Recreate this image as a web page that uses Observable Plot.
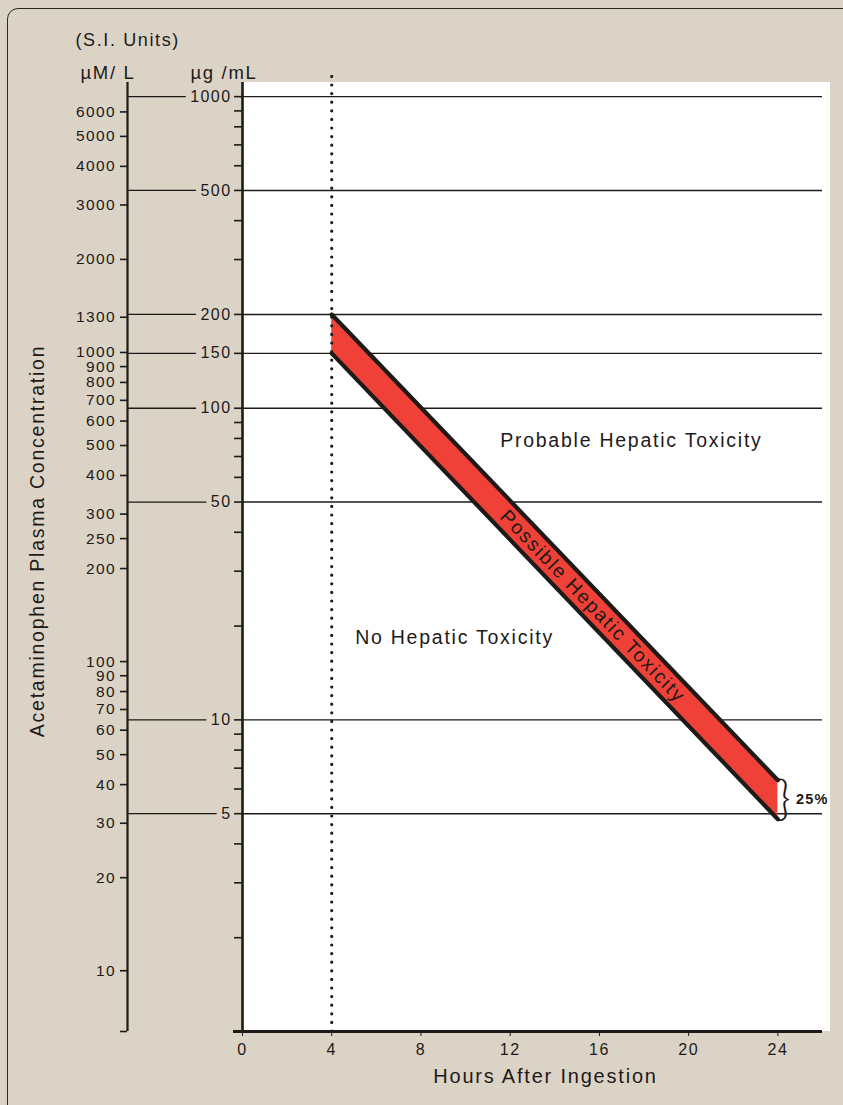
<!DOCTYPE html>
<html>
<head>
<meta charset="utf-8">
<script src="https://cdn.jsdelivr.net/npm/d3@7"></script>
<script src="https://cdn.jsdelivr.net/npm/@observablehq/plot@0.6"></script>
<style>
  html, body { margin: 0; padding: 0; background: #dcd3c7; width: 843px; height: 1105px; overflow: hidden; }
  #wrap { position: relative; width: 843px; height: 1105px; }
  #border { position: absolute; left: 7px; top: 8px; width: 900px; height: 1200px;
            border: 1.5px solid #2b2724; border-radius: 11px; box-sizing: border-box; }
  #chart { position: absolute; left: 0; top: 0; }
  #chart text { letter-spacing: 0.09em; }
  #chart g[aria-label^="x-axis"] { font-size: 16px; }
  #chart g[aria-label^="x-axis"] text { font-size: 16px; }
</style>
</head>
<body>
<div id="wrap"><div id="border"></div><div id="chart"></div></div>
<script>
// ---------------- data ----------------
const hours = [0, 4, 8, 12, 16, 20, 24];
const gridUg = [1000, 500, 200, 150, 100, 50, 10, 5];
const ugTicks = [1000, 900, 800, 700, 600, 500, 400, 300, 200, 150, 100, 90, 80, 70, 60, 50, 40, 30, 20, 10, 9, 8, 7, 6, 5, 4, 3, 2];
const ugLabels = [1000, 500, 200, 150, 100, 50, 10, 5];
const muLabels = [6000, 5000, 4000, 3000, 2000, 1300, 1000, 900, 800, 700, 600, 500, 400, 300, 250, 200, 100, 90, 80, 70, 60, 50, 40, 30, 20, 10];
const bandHours = [4, 24];
const bandUpper = [200, 6.4];   // µg/mL
const bandLower = [150, 4.8];   // µg/mL
const regionLabels = ["Probable Hepatic Toxicity", "No Hepatic Toxicity"];
const regionHours = [11.55, 5.05];
const regionConc = [78.5, 18.4];
const bandLabel = "Possible Hepatic Toxicity";
const bandLabelHour = 15.7;
const spreadLabel = "25%";
// calibration of the printed µM/L scale against the µg/mL scale
const MU_SLOPE = 0.992, MU_OFFSET = -0.797;

// ---------------- layout / style ----------------
const W = 843, H = 1105;
const M = {top: 82, bottom: 74, left: 242, right: 21};
const X_DOMAIN = [0, 26], Y_DOMAIN = [1, 1110], DOT_TOP = 1170;
const INK = "#1d1a18", RED = "#ef4137";
const FONT = "'Liberation Sans', Arial, Helvetica, sans-serif";

const xs = Plot.scale({x: {domain: X_DOMAIN, range: [M.left, W - M.right]}});
const ys = Plot.scale({y: {type: "log", domain: Y_DOMAIN, range: [H - M.bottom, M.top]}});
const px = p => xs.invert(p);              // pixel column -> hours coordinate
const muToUg = d => Math.pow(10, MU_SLOPE * Math.log10(d) + MU_OFFSET);

const band = bandHours.map((h, i) => ({h, hi: bandUpper[i], lo: bandLower[i]}));
const logMid = i => (Math.log10(bandUpper[i]) + Math.log10(bandLower[i])) / 2;
const t = (bandLabelHour - bandHours[0]) / (bandHours[1] - bandHours[0]);
const bandLabelConc = Math.pow(10, logMid(0) + t * (logMid(1) - logMid(0)));
const angle = Math.atan2(ys.apply(Math.pow(10, logMid(1))) - ys.apply(Math.pow(10, logMid(0))),
                         xs.apply(bandHours[1]) - xs.apply(bandHours[0])) * 180 / Math.PI;
const spreadConc = Math.pow(10, logMid(1));
const regions = regionLabels.map((s, i) => ({s, h: regionHours[i], c: regionConc[i]}));
const labelWidth = d => String(d).length * 10.3;

const chart = Plot.plot({
  width: W, height: H,
  marginTop: M.top, marginBottom: M.bottom, marginLeft: M.left, marginRight: M.right,
  style: {background: "transparent", fontFamily: FONT, fontSize: "16px", color: INK, overflow: "visible"},
  x: {domain: X_DOMAIN, ticks: hours, tickSize: 5, tickPadding: 7, label: null},
  y: {type: "log", domain: Y_DOMAIN, axis: null},
  marks: [
    // white plotting field
    Plot.rect([0], {x1: 0, x2: px(830), y1: Y_DOMAIN[0], y2: Y_DOMAIN[1], fill: "white"}),
    // horizontal reference lines
    Plot.ruleY(gridUg, {x1: 0, x2: X_DOMAIN[1], stroke: INK, strokeWidth: 1.4}),
    // possible-toxicity band
    Plot.areaY(band, {x: "h", y1: "lo", y2: "hi", fill: RED}),
    Plot.line(band, {x: "h", y: "hi", stroke: INK, strokeWidth: 4.2}),
    Plot.line(band, {x: "h", y: "lo", stroke: INK, strokeWidth: 4.2}),
    // 4-hour dotted line
    Plot.ruleX([4], {y1: Y_DOMAIN[0], y2: DOT_TOP, stroke: INK, strokeWidth: 3.2,
                     strokeDasharray: "0 8.6", strokeLinecap: "round"}),
    // µg/mL axis
    Plot.ruleX([0], {y1: Y_DOMAIN[0], y2: Y_DOMAIN[1], stroke: INK, strokeWidth: 2.6}),
    Plot.ruleY(ugTicks, {x1: px(234), x2: 0, stroke: INK, strokeWidth: 1.6}),
    Plot.text(ugLabels, {x: 0, y: d => d, text: d => String(d), dx: -11, textAnchor: "end", fontSize: 16, fill: INK}),
    // µM/L axis
    Plot.ruleX([px(127)], {y1: Y_DOMAIN[0], y2: Y_DOMAIN[1], stroke: INK, strokeWidth: 2.2}),
    Plot.ruleY(muLabels.map(muToUg).concat([Y_DOMAIN[0]]), {x1: px(120), x2: px(127), stroke: INK, strokeWidth: 1.6}),
    Plot.text(muLabels, {x: px(115.5), y: muToUg, text: d => String(d), textAnchor: "end", fontSize: 15.5, fill: INK}),
    // connectors between the two scales
    Plot.ruleY(ugLabels, {x1: px(128), x2: d => px(230 - labelWidth(d) - 3), stroke: INK, strokeWidth: 1.3}),
    // x axis line
    Plot.ruleY([Y_DOMAIN[0]], {x1: px(233), x2: X_DOMAIN[1], stroke: INK, strokeWidth: 3}),
    // titles
    Plot.text(["Hours After Ingestion"], {x: px(545), frameAnchor: "bottom", dy: 51, fontSize: 20, fill: INK}),
    Plot.text(["Acetaminophen Plasma Concentration"], {x: px(37), frameAnchor: "left", dy: -16, rotate: -90,
                textAnchor: "middle", fontSize: 19.5, fill: INK}),
    Plot.text(["(S.I. Units)"], {x: px(75), frameAnchor: "top", dy: -49, textAnchor: "start", fontSize: 18, fill: INK}),
    Plot.text(["µM/ L"], {x: px(80), frameAnchor: "top", dy: -17, textAnchor: "start", fontSize: 18.5, fill: INK}),
    Plot.text(["µg /mL"], {x: px(190), frameAnchor: "top", dy: -17, textAnchor: "start", fontSize: 18.5, fill: INK}),
    // region annotations
    Plot.text(regions, {x: "h", y: "c", text: "s", textAnchor: "start", fontSize: 19.5, fill: INK}),
    Plot.text([bandLabel], {x: bandLabelHour, y: bandLabelConc, rotate: angle, fontSize: 19.5, fill: INK}),
    Plot.text(["}"], {x: bandHours[1], y: spreadConc, dx: 8, fontSize: 48, fontWeight: 300,
                      fontFamily: "Lato, 'DejaVu Sans', sans-serif", fill: INK}),
    Plot.text([spreadLabel], {x: bandHours[1], y: spreadConc, dx: 18, textAnchor: "start", fontSize: 14.5, fontWeight: "bold", fill: INK})
  ]
});
document.getElementById("chart").appendChild(chart);
</script>
</body>
</html>
